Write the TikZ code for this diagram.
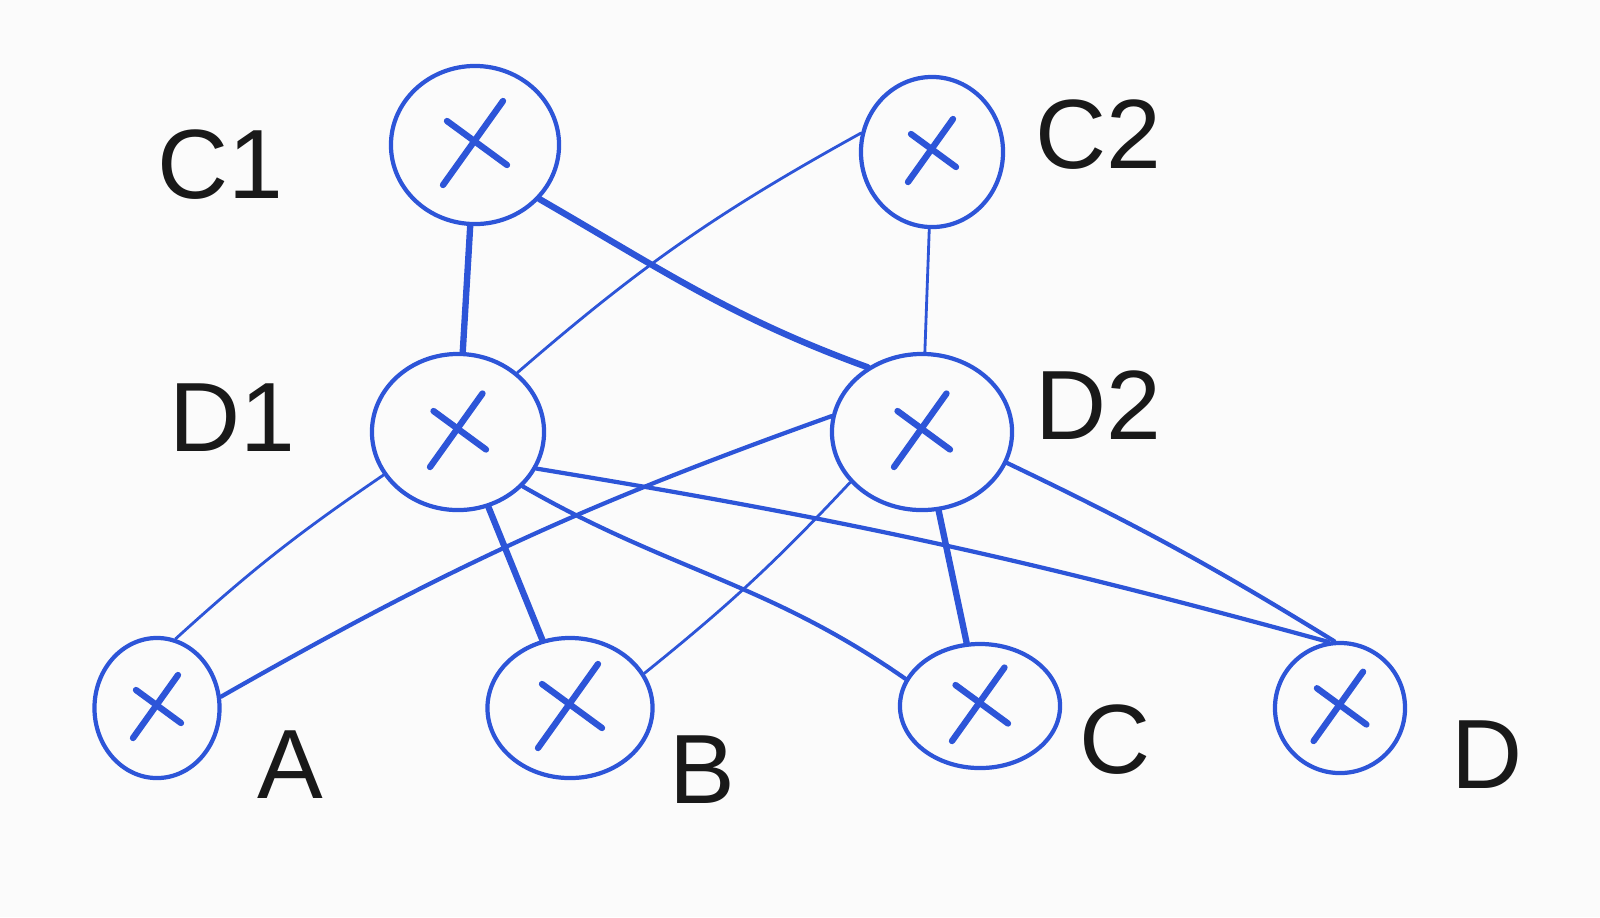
\documentclass[tikz,border=0pt]{standalone}
\usepackage{fontspec}
\setmainfont{Liberation Sans}
\usetikzlibrary{shapes.geometric}
\definecolor{ink}{HTML}{2D55D8}
\definecolor{bg}{HTML}{FBFBFB}
\tikzset{
  nd/.style={ellipse, draw=ink, line width=1.2pt, inner sep=0pt},
  lbl/.style={font=\fontsize{28}{32}\selectfont, text=black!90},
  thin edge/.style={draw=ink, line width=0.8pt, line cap=round},
  mid edge/.style={draw=ink, line width=1.2pt, line cap=round},
  thick edge/.style={draw=ink, line width=1.8pt, line cap=round},
  crossst/.style={draw=ink, line width=1.8pt, line cap=round}
}
\begin{document}
\begin{tikzpicture}[x=0.01cm,y=-0.01cm]
\fill[bg] (0,0) rectangle (1600,917);
\useasboundingbox (0,0) rectangle (1600,917);
% nodes
\node[nd, minimum width=1.68cm, minimum height=1.58cm] (C1) at (475,145) {};
\node[nd, minimum width=1.42cm, minimum height=1.50cm] (C2) at (932,152) {};
\node[nd, minimum width=1.72cm, minimum height=1.56cm] (D1) at (458,432) {};
\node[nd, minimum width=1.80cm, minimum height=1.56cm] (D2) at (922,432) {};
\node[nd, minimum width=1.25cm, minimum height=1.40cm] (A) at (157,708) {};
\node[nd, minimum width=1.65cm, minimum height=1.40cm] (B) at (570,708) {};
\node[nd, minimum width=1.60cm, minimum height=1.24cm] (C) at (980,706) {};
\node[nd, minimum width=1.30cm, minimum height=1.30cm] (D) at (1340,708) {};
% crosses
\foreach \n/\s in {C1/40,C2/30,D1/35,D2/35,A/30,B/40,C/35,D/33}{
  \draw[crossst] ([shift={(-0.8*\s,\s)}]\n.center) -- ([shift={(0.7*\s,-1.1*\s)}]\n.center);
  \draw[crossst] ([shift={(-0.7*\s,-0.6*\s)}]\n.center) -- ([shift={(0.8*\s,0.5*\s)}]\n.center);
}
% labels
\node[lbl] (lC1) at (220,165) {C1};
\node[lbl] (lC2) at (1098,135) {C2};
\node[lbl] (lD1) at (232,418) {D1};
\node[lbl] (lD2) at (1098,405) {D2};
\node[lbl] (lA) at (290,765) {A};
\node[lbl] (lB) at (702,770) {B};
\node[lbl] (lC) at (1115,740) {C};
\node[lbl] (lD) at (1487,755) {D};
% edges
\draw[thick edge] (C1) -- (D1);
\draw[thick edge] (C1.-40) to[out=-30, in=160] (D2.130);
\draw[thin edge] (C2.165) to[bend right=6] (D1.45);
\draw[thin edge] (C2) -- (D2);
\draw[thin edge] (D1.-150) to[bend right=4] (A.75);
\draw[thick edge] (D1) -- (B);
\draw[mid edge] (D1.-40) to[out=-30, in=145] (C.160);
\draw[mid edge] (D1.-25) to[bend left=3] (D.100);
\draw[mid edge] (D2.170) to[bend right=5] (A.10);
\draw[thin edge] (D2.-145) to[bend left=4] (B.25);
\draw[thick edge] (D2) -- (C);
\draw[mid edge] (D2.-20) to[bend left=3] (D.95);
\end{tikzpicture}
\end{document}
